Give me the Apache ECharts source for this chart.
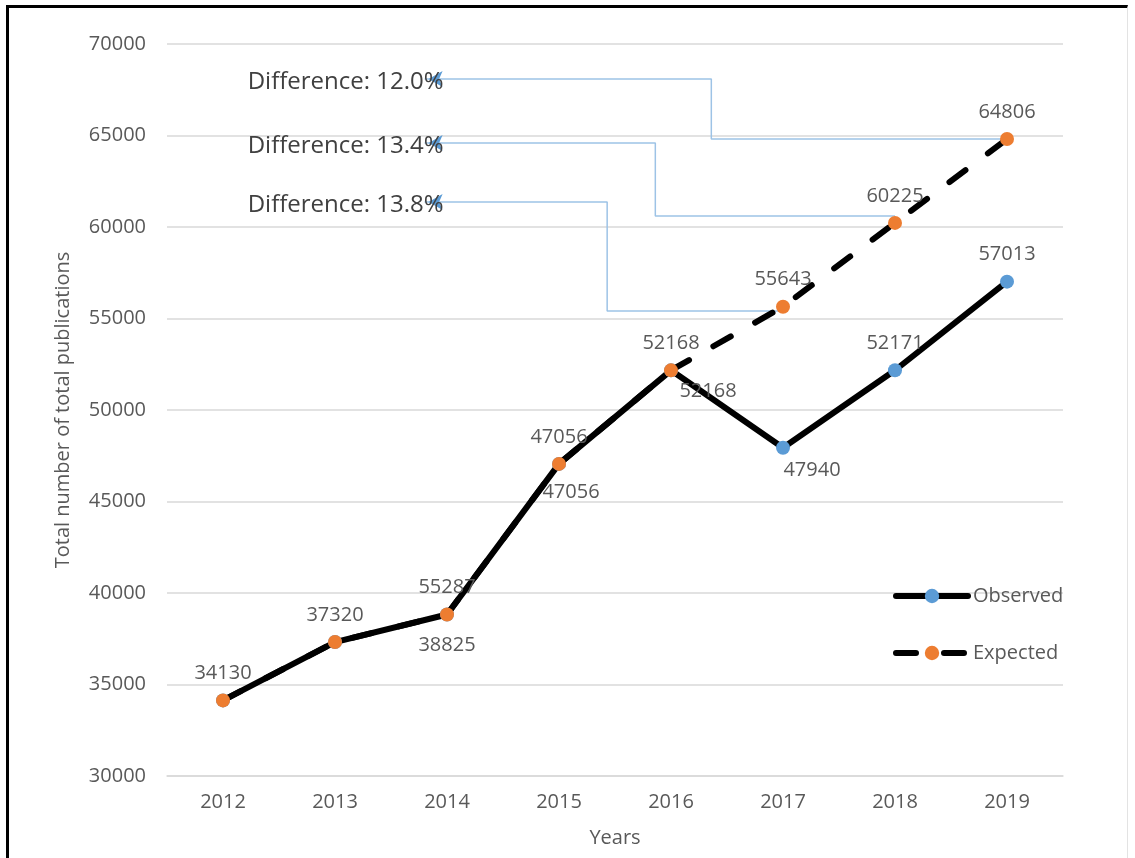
<!DOCTYPE html>
<html>
<head>
<meta charset="utf-8">
<script src="https://cdn.jsdelivr.net/npm/echarts@6/dist/echarts.min.js"></script>
<style>
  html, body { margin: 0; padding: 0; background: #fff; }
  #chart { position: absolute; left: 0; top: 0; width: 1135px; height: 858px; }
  #frame { position: absolute; left: 6px; top: 5px; width: 1122px; height: 860px;
           border-top: 3px solid #000; border-left: 3px solid #000; border-right: 1px solid #e3e3e3;
           pointer-events: none; box-sizing: border-box; }
</style>
</head>
<body>
<div id="chart"></div>
<div id="frame"></div>
<script>
// ---- data ----
const years = ['2012', '2013', '2014', '2015', '2016', '2017', '2018', '2019'];
const observed = [34130, 37320, 38825, 47056, 52168, 47940, 52171, 57013];
const expected = [34130, 37320, 38825, 47056, 52168, 55643, 60225, 64806];
const expectedLabelText = ['34130', '37320', '55287', '47056', '52168', '55643', '60225', '64806'];
const observedLabelShown = [false, false, true, true, true, true, true, true];
const yTicks = { min: 30000, max: 70000, interval: 5000 };

// difference annotations (data units: x in category index, y in value)
const diffLabels = ['Difference: 12.0%', 'Difference: 13.4%', 'Difference: 13.8%'];
const diffTextLevel = [68087, 64590, 61366];
const diffElbowX = [4.36, 3.86, 3.43];
const diffTargetLevel = [64806, 60600, 55410];
const diffTargetX = [7, 6, 5];
const diffStartX = 1.8;

// ---- styles ----
const FONT = 'Open Sans';
const TXT = '#595959';
const obsLabelStyle = [
  null, null,
  { position: 'bottom', distance: 14, offset: [0, 0] },
  { position: 'bottom', distance: 11, offset: [12, 0] },
  { position: 'bottom', distance: 0, offset: [37, 4] },
  { position: 'bottom', distance: 0, offset: [29, 6] },
  { position: 'top', distance: 10, offset: [0, 0] },
  { position: 'top', distance: 10, offset: [0, 0] }
];

const obsData = observed.map((v, i) => ({
  value: v,
  label: observedLabelShown[i]
    ? Object.assign({ show: true }, obsLabelStyle[i])
    : { show: false }
}));
const expData = expected.map((v, i) => ({
  value: v,
  label: { show: true, position: 'top', distance: 10, formatter: expectedLabelText[i] }
}));

const annotationSeries = diffLabels.map((txt, k) => ({
  type: 'line',
  name: 'ann' + k,
  xAxisIndex: 1,
  z: 1,
  silent: true,
  data: [
    [diffStartX, diffTextLevel[k]],
    [diffElbowX[k], diffTextLevel[k]],
    [diffElbowX[k], diffTargetLevel[k]],
    [diffTargetX[k], diffTargetLevel[k]]
  ],
  symbol: (val, params) => params.dataIndex === 0 ? 'arrow' : 'none',
  symbolSize: [12, 14],
  symbolRotate: 90,
  symbolOffset: [4, 0],
  showSymbol: true,
  itemStyle: { color: '#5b9bd5' },
  lineStyle: { color: '#9dc3e6', width: 1.5 },
  label: {
    show: true,
    formatter: (p) => p.dataIndex === 0 ? txt : '',
    position: 'left',
    distance: 0,
    offset: [15, 3],
    color: '#404040',
    fontFamily: FONT,
    fontSize: 24
  },
  animation: false
}));

const chart = echarts.init(document.getElementById('chart'), null, { renderer: 'canvas' });
chart.setOption({
  animation: false,
  backgroundColor: '#fff',
  textStyle: { fontFamily: FONT },
  grid: { left: 167, right: 72, top: 44, bottom: 82 },
  legend: {
    data: [
      { name: 'Observed' },
      { name: 'Expected' }
    ],
    orient: 'vertical',
    left: 888,
    top: 581,
    itemWidth: 72,
    itemHeight: 18,
    itemGap: 37,
    lineStyle: { width: 6, color: '#000', cap: 'round' },
    textStyle: { color: TXT, fontSize: 20, fontFamily: FONT }
  },
  xAxis: [
    {
      type: 'category',
      data: years,
      boundaryGap: true,
      name: 'Years',
      nameLocation: 'middle',
      nameGap: 52,
      nameTextStyle: { color: TXT, fontSize: 20, fontFamily: FONT },
      axisLine: { lineStyle: { color: '#d9d9d9', width: 1.5 } },
      axisTick: { show: false },
      axisLabel: { color: TXT, fontSize: 20, margin: 16, fontFamily: FONT }
    },
    {
      type: 'value',
      min: -0.5,
      max: 7.5,
      show: false
    }
  ],
  yAxis: {
    type: 'value',
    min: yTicks.min,
    max: yTicks.max,
    interval: yTicks.interval,
    name: 'Total number of total publications',
    nameLocation: 'middle',
    nameGap: 94,
    nameTextStyle: { color: TXT, fontSize: 20, fontFamily: FONT },
    axisLine: { show: false },
    axisTick: { show: false },
    axisLabel: { color: TXT, fontSize: 20, margin: 21, fontFamily: FONT, formatter: (v) => String(v) },
    splitLine: { lineStyle: { color: '#d9d9d9', width: 1.5 } }
  },
  series: [
    ...annotationSeries,
    {
      name: 'Observed',
      type: 'line',
      z: 3,
      data: obsData,
      symbol: 'circle',
      symbolSize: 14,
      showAllSymbol: true,
      itemStyle: { color: '#5b9bd5' },
      lineStyle: { color: '#000', width: 6, cap: 'round', join: 'round' },
      label: { color: TXT, fontSize: 20, fontFamily: FONT }
    },
    {
      name: 'Expected',
      type: 'line',
      z: 4,
      data: expData,
      symbol: 'circle',
      symbolSize: 14,
      showAllSymbol: true,
      itemStyle: { color: '#ed7d31' },
      lineStyle: { color: '#000', width: 6, type: [20, 28], cap: 'round', join: 'round' },
      label: { color: TXT, fontSize: 20, fontFamily: FONT }
    }
  ]
});
</script>
</body>
</html>
